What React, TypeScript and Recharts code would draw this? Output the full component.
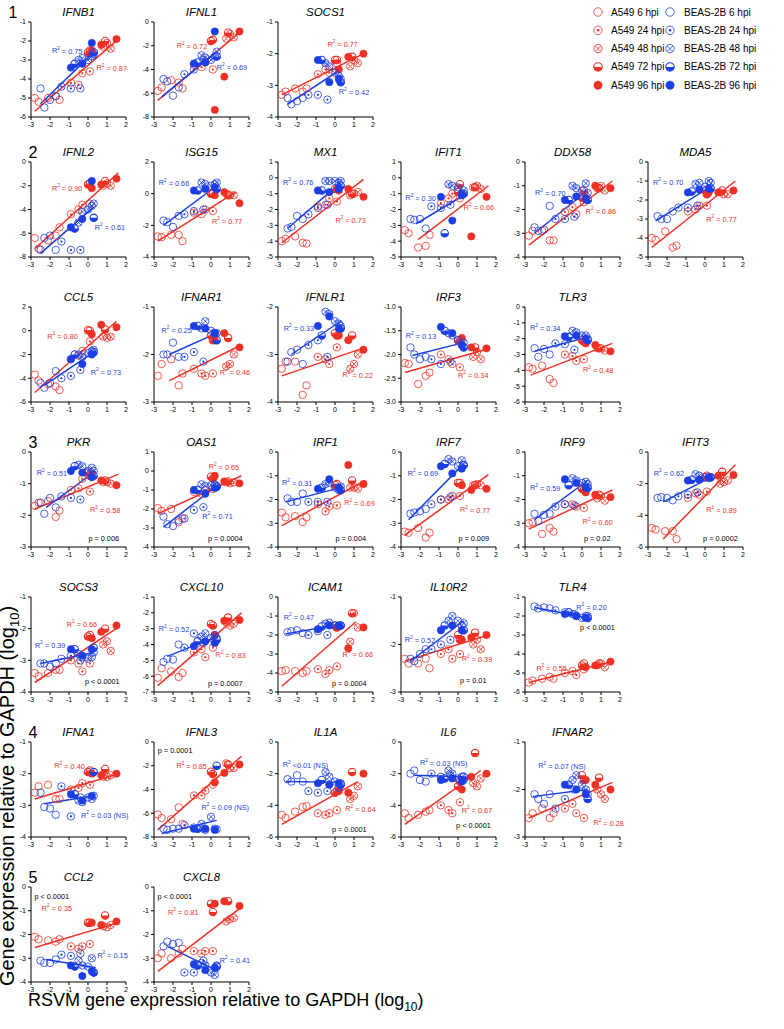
import React from 'react';
import { ScatterChart, Scatter, XAxis, YAxis, ReferenceLine } from 'recharts';

const RED = '#EE3124';
const BLUE = '#1B3FE4';
const FONT = '"Liberation Sans", Arial, Helvetica, sans-serif';

const X_TICKS = [-3, -2, -1, 0, 1, 2];
const TIME_LABELS = ['6 hpi', '24 hpi', '48 hpi', '72 hpi', '96 hpi'];
const CELL_LINES = ['A549', 'BEAS-2B'];

// RSVM (x) values of the samples, shared by every gene panel, and their time point index
const A549_X = [-2.8, -2.6, -2.1, -1.7, -1.5, -0.9, -0.5, -0.3, 0.1, 0.8, 1.0, 1.2, 0.0, 0.1, 0.9, 0.2, 0.7, 1.5];
const A549_T = [0, 0, 0, 0, 0, 1, 1, 1, 1, 2, 2, 2, 3, 3, 3, 4, 4, 4];
const BEAS_X = [-2.5, -2.3, -2.0, -1.7, -1.4, -0.9, -0.4, -0.5, -0.3, 0.0, 0.2, 0.3, -0.7, 0.3, -0.9, -0.3, 0.2];
const BEAS_T = [0, 0, 0, 0, 1, 1, 1, 2, 2, 2, 2, 2, 3, 3, 4, 4, 4];

// gene expression (y) per panel: A549 then BEAS-2B
const IFNB1_A = [-5.0, -5.2, -5.0, -4.9, -5.1, -4.2, -4.3, -3.7, -3.6, -2.3, -2.1, -2.4, -2.6, -2.5, -2.0, -2.5, -2.2, -1.9];
const IFNB1_B = [-4.5, -5.5, -5.1, -4.9, -4.4, -4.5, -4.5, -3.0, -2.9, -3.0, -2.8, -2.7, -3.2, -2.6, -3.4, -3.2, -2.1];
const IFNL1_A = [-5.8, -5.5, -4.9, -5.1, -5.6, -3.6, -3.8, -3.4, -4.0, -1.4, -1.0, -1.3, -1.6, -1.5, -0.9, -7.4, -4.6, -0.8];
const IFNL1_B = [-4.8, -5.0, -6.2, -5.5, -4.4, -4.0, -3.2, -2.8, -3.0, -3.2, -2.9, -2.5, -3.4, -2.9, -3.5, -3.4, -0.8];
const SOCS1_A = [-3.3, -3.2, -3.1, -3.2, -3.1, -2.65, -2.5, -2.6, -2.3, -2.4, -2.2, -2.3, -2.2, -2.2, -2.1, -2.5, -2.1, -2.0];
const SOCS1_B = [-3.4, -3.6, -3.5, -3.4, -3.3, -3.3, -3.45, -2.3, -2.4, -2.6, -2.7, -2.8, -2.2, -2.9, -2.2, -2.9, -2.8];
const IFNL2_A = [-6.4, -7.3, -6.6, -6.2, -5.5, -4.4, -4.0, -3.6, -3.5, -2.0, -1.8, -2.0, -1.9, -1.8, -1.6, -2.2, -1.9, -1.4];
const IFNL2_B = [-7.4, -6.4, -6.2, -7.4, -6.7, -7.4, -7.4, -5.1, -4.2, -4.0, -3.7, -3.5, -5.6, -4.7, -5.5, -4.8, -1.6];
const ISG15_A = [-2.7, -2.75, -2.6, -2.6, -3.0, -1.2, -1.3, -1.0, -1.1, 0.0, -0.1, -0.1, 0.0, 0.0, -0.1, -0.1, 0.1, -0.6];
const ISG15_B = [-1.7, -1.8, -2.1, -1.4, -1.3, -1.1, -1.0, 0.7, 0.6, 0.5, 0.6, 0.7, 0.2, 0.3, 0.2, 0.3, 0.4];
const MX1_A = [-4.0, -3.85, -3.7, -4.1, -4.15, -1.8, -1.7, -1.3, -1.5, -1.1, -1.0, -0.9, -0.7, -0.7, -1.0, -0.8, -0.7, -1.2];
const MX1_B = [-3.2, -3.1, -2.4, -2.6, -2.3, -1.9, -1.7, -0.2, -0.2, -0.2, -0.3, -0.2, -0.8, -0.5, -0.8, -0.9, -0.7];
const IFIT1_A = [-3.3, -3.5, -4.4, -4.3, -3.6, -1.6, -1.3, -1.0, -1.3, -0.6, -0.5, -0.7, -0.9, -0.4, -0.6, -1.0, -3.7, -1.2];
const IFIT1_B = [-2.6, -2.65, -2.6, -3.2, -1.8, -1.9, -1.7, -0.4, -0.5, -0.6, -1.0, -0.8, -3.5, -1.0, -1.2, -2.7, -1.1];
const DDX58_A = [-3.1, -2.9, -2.9, -3.3, -3.3, -2.1, -1.9, -2.2, -1.7, -1.1, -1.0, -1.2, -1.5, -1.2, -1.1, -1.5, -1.0, -1.1];
const DDX58_B = [-2.75, -2.9, -2.85, -1.85, -2.4, -2.4, -2.3, -1.0, -1.1, -1.2, -0.9, -1.3, -1.6, -1.6, -1.6, -1.45, -1.55];
const MDA5_A = [-4.0, -4.1, -3.65, -4.5, -4.4, -2.6, -2.5, -2.3, -2.3, -1.6, -1.7, -1.7, -1.5, -1.7, -1.5, -1.6, -1.6, -1.5];
const MDA5_B = [-2.85, -3.0, -3.0, -2.6, -2.4, -2.4, -2.3, -1.15, -1.1, -1.3, -1.0, -1.1, -1.55, -1.4, -1.6, -1.45, -1.4];
const CCL5_A = [-3.7, -4.2, -4.5, -4.7, -5.0, -2.4, -2.1, -1.7, -0.9, -0.5, -0.6, -0.5, 0.05, 0.0, 0.1, -0.3, 0.5, 0.3];
const CCL5_B = [-4.4, -4.8, -4.4, -3.4, -4.0, -3.8, -3.3, -2.0, -2.2, -1.9, -1.7, -1.6, -2.0, -1.8, -2.4, -2.8, -2.0];
const IFNAR1_A = [-2.45, -2.2, -2.1, -2.65, -2.4, -2.3, -2.4, -2.45, -2.4, -2.25, -2.2, -2.0, -1.6, -1.7, -1.65, -1.7, -1.55, -1.85];
const IFNAR1_B = [-2.0, -2.0, -1.75, -2.05, -2.05, -1.95, -2.15, -1.45, -1.3, -1.5, -1.55, -1.55, -1.4, -1.7, -1.4, -1.45, -1.55];
const IFNLR1_A = [-3.3, -3.15, -3.15, -3.85, -3.65, -3.05, -3.1, -3.2, -2.85, -3.3, -3.2, -3.0, -2.55, -2.6, -2.6, -2.6, -2.7, -2.9];
const IFNLR1_B = [-3.15, -2.95, -2.9, -3.2, -2.8, -2.7, -3.05, -2.1, -2.15, -2.3, -2.35, -2.4, -2.6, -2.45, -2.4, -2.2, -2.45];
const IRF3_A = [-2.18, -2.2, -2.62, -2.45, -2.38, -2.0, -2.1, -2.2, -2.27, -2.05, -1.95, -2.1, -1.7, -1.72, -1.85, -1.65, -1.85, -1.87];
const IRF3_B = [-1.85, -2.0, -2.1, -2.05, -2.1, -2.2, -2.15, -1.55, -1.6, -1.7, -1.8, -1.75, -1.5, -1.85, -1.42, -1.55, -1.8];
const TLR3_A = [-3.8, -3.9, -3.7, -4.55, -4.8, -3.0, -3.1, -3.4, -3.3, -2.6, -2.6, -2.75, -2.1, -2.2, -2.6, -2.3, -2.4, -2.8];
const TLR3_B = [-2.6, -3.15, -2.65, -3.0, -2.3, -2.35, -2.7, -1.5, -1.6, -1.8, -1.8, -2.0, -1.9, -2.1, -1.85, -1.8, -2.0];
const PKR_A = [-1.7, -1.6, -1.55, -2.05, -1.85, -1.2, -1.15, -0.85, -1.25, -0.95, -0.95, -1.0, -0.65, -0.75, -0.9, -0.7, -0.9, -1.05];
const PKR_B = [-1.6, -1.95, -1.45, -1.75, -1.4, -1.45, -1.5, -0.4, -0.45, -0.6, -0.5, -0.6, -0.45, -0.75, -0.6, -0.65, -0.8];
const OAS1_A = [-1.95, -2.1, -2.0, -2.7, -2.5, -1.1, -1.2, -1.0, -0.95, -0.6, -0.65, -0.6, -0.3, -0.4, -0.55, -0.25, -0.55, -0.65];
const OAS1_B = [-2.4, -2.8, -2.9, -2.6, -2.5, -2.05, -1.9, -0.7, -0.8, -0.75, -0.7, -0.85, -1.0, -0.8, -1.0, -1.2, -0.9];
const IRF1_A = [-2.55, -2.75, -2.7, -2.95, -2.75, -2.2, -2.5, -2.3, -2.25, -1.5, -1.5, -1.55, -1.4, -1.35, -1.2, -1.5, -0.55, -1.35];
const IRF1_B = [-1.95, -2.1, -2.1, -1.75, -2.1, -2.1, -2.1, -1.35, -1.3, -1.5, -1.6, -1.45, -1.5, -1.6, -1.55, -1.15, -1.5];
const IRF7_A = [-3.35, -3.4, -3.2, -3.6, -3.4, -2.0, -2.0, -1.85, -1.85, -1.4, -1.35, -1.4, -1.3, -1.3, -1.4, -1.4, -1.6, -1.55];
const IRF7_B = [-2.6, -2.55, -2.5, -2.4, -2.2, -2.0, -1.9, -0.3, -0.4, -0.6, -0.35, -0.55, -0.5, -0.55, -0.6, -0.9, -0.7];
const IRF9_A = [-3.0, -2.95, -3.45, -3.2, -3.35, -2.2, -2.2, -2.3, -2.35, -1.95, -1.85, -2.05, -1.55, -1.6, -1.8, -1.7, -1.8, -1.9];
const IRF9_B = [-2.6, -2.9, -2.65, -2.6, -2.3, -2.2, -2.25, -1.1, -1.2, -1.3, -1.25, -1.35, -1.4, -1.5, -1.15, -1.3, -1.5];
const IFIT3_A = [-4.8, -4.9, -5.0, -5.0, -5.5, -2.9, -2.6, -2.7, -2.5, -2.0, -1.9, -1.8, -1.6, -1.5, -1.25, -1.6, -1.5, -1.45];
const IFIT3_B = [-2.9, -2.85, -2.9, -3.05, -2.8, -2.7, -2.55, -1.4, -1.5, -1.6, -1.65, -1.6, -1.75, -1.6, -1.8, -1.75, -1.6];
const SOCS3_A = [-3.4, -3.5, -3.4, -3.3, -3.3, -3.0, -3.1, -3.35, -3.1, -2.5, -2.4, -2.7, -2.25, -2.2, -2.0, -2.3, -2.1, -1.9];
const SOCS3_B = [-3.1, -3.1, -3.2, -3.1, -2.95, -2.85, -3.0, -2.8, -2.9, -2.95, -2.9, -2.75, -2.65, -2.6, -2.65, -2.85, -2.65];
const CXCL10_A = [-6.1, -5.5, -5.7, -6.05, -5.8, -4.5, -4.3, -4.8, -4.2, -2.6, -2.8, -2.7, -2.7, -2.8, -2.3, -3.4, -2.5, -2.45];
const CXCL10_B = [-5.1, -4.9, -4.95, -4.0, -4.2, -3.3, -3.9, -3.5, -3.3, -3.6, -3.4, -3.6, -3.8, -3.7, -4.1, -3.8, -3.9];
const ICAM1_A = [-3.9, -3.85, -3.9, -4.0, -3.9, -3.8, -4.05, -3.85, -3.65, -2.35, -0.85, -1.6, -1.5, -1.6, -0.85, -1.55, -2.7, -1.6];
const ICAM1_B = [-1.85, -1.8, -1.75, -1.9, -2.0, -1.8, -2.0, -1.4, -1.35, -1.5, -1.5, -1.5, -1.55, -1.5, -1.7, -1.5, -1.5];
const IL10R2_A = [-2.3, -2.4, -2.4, -2.3, -2.5, -2.2, -2.1, -2.3, -2.2, -2.0, -1.9, -2.1, -1.8, -1.9, -1.75, -1.9, -1.85, -1.8];
const IL10R2_B = [-2.3, -2.35, -2.2, -2.1, -2.1, -2.0, -1.9, -1.5, -1.4, -1.5, -1.6, -1.55, -1.6, -1.7, -1.7, -1.6, -1.7];
const TLR4_A = [-5.5, -5.4, -5.3, -5.2, -5.3, -5.0, -4.9, -5.1, -4.8, -4.6, -4.5, -4.7, -4.6, -4.5, -4.5, -4.7, -4.6, -4.4];
const TLR4_B = [-1.5, -1.6, -1.55, -1.6, -1.7, -1.8, -1.9, -1.9, -2.0, -2.1, -2.0, -2.0, -1.8, -2.1, -1.9, -2.0, -2.1];
const IFNA1_A = [-2.6, -2.4, -2.35, -2.8, -2.8, -2.5, -2.45, -2.3, -2.35, -2.1, -2.1, -2.05, -1.95, -1.9, -1.85, -2.0, -2.05, -2.0];
const IFNA1_B = [-2.6, -3.05, -3.1, -3.3, -2.4, -3.35, -2.75, -2.85, -2.9, -2.75, -2.8, -2.7, -2.65, -1.95, -2.65, -2.85, -2.7];
const IFNL3_A = [-6.1, -6.4, -6.5, -5.5, -6.9, -4.5, -4.5, -4.1, -3.6, -1.8, -2.2, -2.2, -2.5, -2.7, -1.9, -3.4, -2.6, -1.9];
const IFNL3_B = [-7.3, -7.4, -7.3, -7.3, -7.0, -7.2, -7.3, -6.9, -7.4, -6.3, -7.3, -7.35, -7.3, -2.0, -7.3, -7.3, -7.4];
const IL1A_A = [-4.6, -4.8, -4.4, -4.1, -4.05, -4.5, -4.6, -4.5, -4.3, -3.6, -3.4, -2.8, -3.2, -3.1, -1.9, -3.1, -3.2, -2.0];
const IL1A_B = [-2.35, -2.5, -2.1, -2.5, -3.1, -3.2, -3.1, -1.9, -2.2, -2.5, -2.9, -2.6, -2.4, -2.7, -2.6, -2.7, -2.6];
const IL6_A = [-4.5, -4.8, -4.6, -4.4, -4.3, -4.0, -4.3, -4.5, -3.8, -2.6, -2.8, -2.3, -2.8, -2.5, -0.7, -3.0, -2.2, -2.0];
const IL6_B = [-2.0, -1.8, -2.4, -2.5, -2.0, -2.2, -2.1, -1.8, -2.0, -2.3, -2.2, -2.4, -2.3, -2.2, -2.4, -2.3, -2.5];
const IFNAR2_A = [-2.6, -2.5, -2.4, -2.6, -2.5, -2.4, -2.3, -2.5, -2.6, -2.0, -2.1, -2.2, -1.7, -1.8, -1.75, -1.8, -1.9, -2.0];
const IFNAR2_B = [-2.1, -2.2, -2.3, -2.1, -2.4, -2.2, -2.0, -1.8, -1.7, -1.9, -2.0, -2.1, -1.9, -2.2, -1.9, -2.0, -2.1];
const CCL2_A = [-2.1, -2.2, -2.25, -2.3, -2.2, -2.5, -2.6, -2.5, -2.4, -1.65, -1.7, -1.6, -1.5, -1.5, -1.2, -1.5, -1.6, -1.45];
const CCL2_B = [-3.1, -3.2, -3.2, -3.05, -2.85, -2.9, -2.8, -3.1, -3.3, -3.35, -3.0, -3.6, -3.35, -3.6, -3.3, -3.75, -3.55];
const CXCL8_A = [-3.0, -2.8, -3.0, -2.8, -2.6, -2.7, -2.8, -2.7, -2.7, -1.45, -1.35, -1.3, -0.7, -1.05, -0.6, -0.7, -0.6, -0.8];
const CXCL8_B = [-2.5, -2.3, -2.4, -2.35, -3.6, -3.6, -3.1, -3.2, -3.3, -3.6, -3.7, -3.3, -3.3, -3.35, -3.25, -3.5, -3.4];

// regression lines: A549 x1,y1,x2,y2 then BEAS-2B x1,y1,x2,y2
const IFNB1_FIT = [-2.8, -5.7, 1.6, -1.9, -2.5, -5.3, 0.3, -2.6];
const IFNL1_FIT = [-2.8, -6.6, 1.5, -0.9, -2.6, -6.3, 0.3, -2.5];
const SOCS1_FIT = [-2.8, -3.3, 1.5, -2.0, -2.5, -3.6, 0.3, -2.5];
const IFNL2_FIT = [-2.8, -7.3, 1.6, -0.9, -2.5, -7.7, 0.3, -3.8];
const ISG15_FIT = [-2.8, -3.0, 1.3, 0.1, -2.5, -2.0, 0.3, 0.5];
const MX1_FIT = [-2.8, -4.1, 1.5, -0.1, -2.5, -3.2, 0.3, -0.3];
const IFIT1_FIT = [-2.1, -3.9, 1.6, -0.5, -2.2, -2.9, 0.3, -1.1];
const DDX58_FIT = [-2.8, -3.5, 1.6, -0.8, -2.5, -3.0, 0.3, -1.2];
const MDA5_FIT = [-2.8, -4.5, 1.6, -1.0, -2.6, -3.1, 0.3, -1.3];
const CCL5_FIT = [-2.8, -5.2, 1.5, 0.8, -2.3, -4.6, 0.4, -1.7];
const IFNAR1_FIT = [-2.2, -2.55, 1.6, -1.8, -2.2, -2.0, 0.3, -1.55];
const IFNLR1_FIT = [-2.8, -3.45, 1.6, -2.85, -2.3, -3.0, 0.3, -2.3];
const IRF3_FIT = [-2.8, -2.38, 1.6, -1.88, -2.4, -2.02, 0.3, -1.75];
const TLR3_FIT = [-2.7, -4.3, 1.6, -2.3, -2.5, -2.8, 0.3, -1.9];
const PKR_FIT = [-2.8, -1.8, 1.6, -0.7, -2.2, -1.75, 0.4, -0.6];
const OAS1_FIT = [-2.8, -2.25, 1.6, -0.25, -2.5, -2.95, 0.4, -0.7];
const IRF1_FIT = [-2.8, -3.1, 1.6, -1.2, -2.6, -2.1, 0.3, -1.5];
const IRF7_FIT = [-2.8, -3.5, 1.6, -0.95, -2.6, -2.85, 0.3, -0.5];
const IRF9_FIT = [-2.8, -3.25, 1.6, -1.6, -2.5, -2.85, 0.3, -1.2];
const IFIT3_FIT = [-2.2, -5.5, 1.6, -0.8, -2.2, -3.15, 0.3, -1.6];
const SOCS3_FIT = [-2.8, -3.7, 1.6, -1.95, -2.5, -3.1, 0.3, -2.75];
const CXCL10_FIT = [-2.8, -6.6, 1.6, -2.0, -2.3, -4.75, 0.3, -3.5];
const ICAM1_FIT = [-2.8, -4.7, 1.1, -1.3, -2.6, -1.95, 0.2, -1.45];
const IL10R2_FIT = [-2.8, -2.35, 1.6, -1.8, -2.5, -2.35, 0.3, -1.5];
const TLR4_FIT = [-2.8, -5.5, 1.6, -4.4, -2.5, -1.55, 0.3, -2.1];
const IFNA1_FIT = [-2.8, -2.8, 1.6, -2.0, -2.3, -2.95, 0.3, -2.7];
const IFNL3_FIT = [-2.8, -7.4, 1.6, -1.2, -2.6, -7.7, 0.3, -6.6];
const IL1A_FIT = [-2.8, -5.2, 1.2, -2.5, -2.6, -2.5, 0.3, -2.55];
const IL6_FIT = [-2.8, -5.2, 1.2, -1.8, -2.3, -2.1, 0.3, -2.2];
const IFNAR2_FIT = [-2.8, -2.6, 1.6, -1.85, -2.6, -2.15, 0.3, -2.0];
const CCL2_FIT = [-2.8, -2.55, 1.6, -1.5, -2.2, -3.05, 0.4, -3.4];
const CXCL8_FIT = [-2.8, -3.55, 1.6, -0.85, -2.3, -2.5, 0.4, -3.55];

// annotations: kind ('a' A549 R², 'b' BEAS-2B R², 'p' p value), text, x, y (data coords, text start)
const IFNB1_TXT = [['b', ' = 0.75', -1.9, -2.5], ['a', ' = 0.87', 0.45, -3.4]];
const IFNL1_TXT = [['a', ' = 0.72', -1.8, -2.0], ['b', ' = 0.69', 0.3, -3.8]];
const SOCS1_TXT = [['a', ' = 0.77', -0.4, -1.7], ['b', ' = 0.42', 0.2, -3.2]];
const IFNL2_TXT = [['a', ' = 0.90', -1.9, -2.2], ['b', ' = 0.61', 0.35, -5.5]];
const ISG15_TXT = [['b', ' = 0.66', -2.75, 0.7], ['a', ' = 0.77', 0.05, -1.75]];
const MX1_TXT = [['b', ' = 0.76', -2.74, -0.28], ['a', ' = 0.73', 0.02, -2.67]];
const IFIT1_TXT = [['b', ' = 0.30', -2.77, -1.26], ['a', ' = 0.66', 0.3, -1.85]];
const DDX58_TXT = [['b', ' = 0.70', -2.47, -1.3], ['a', ' = 0.86', 0.19, -2.07]];
const MDA5_TXT = [['b', ' = 0.70', -2.74, -1.07], ['a', ' = 0.77', 0.07, -3.02]];
const CCL5_TXT = [['a', ' = 0.80', -2.14, -0.45], ['b', ' = 0.73', 0.14, -3.49]];
const IFNAR1_TXT = [['b', ' = 0.25', -2.61, -1.49], ['a', ' = 0.46', 0.46, -2.37]];
const IFNLR1_TXT = [['b', ' = 0.33', -2.7, -2.45], ['a', ' = 0.22', 0.4, -3.43]];
const IRF3_TXT = [['b', ' = 0.13', -2.75, -1.61], ['a', ' = 0.34', 0.0, -2.44]];
const TLR3_TXT = [['b', ' = 0.34', -2.74, -1.3], ['a', ' = 0.48', 0.05, -3.97]];
const PKR_TXT = [['b', ' = 0.51', -2.7, -0.66], ['a', ' = 0.58', 0.1, -1.83], ['p', 'p = 0.006', 0.02, -2.73]];
const OAS1_TXT = [['a', ' = 0.65', -0.12, 0.23], ['b', ' = 0.71', -0.46, -2.37], ['p', 'p = 0.0004', -0.16, -3.54]];
const IRF1_TXT = [['b', ' = 0.31', -2.79, -1.29], ['a', ' = 0.69', 0.49, -2.13], ['p', 'p = 0.004', 0.02, -3.63]];
const IRF7_TXT = [['b', ' = 0.69', -2.65, -0.9], ['a', ' = 0.77', 0.1, -2.44], ['p', 'p = 0.009', 0.02, -3.63]];
const IRF9_TXT = [['b', ' = 0.59', -2.74, -1.5], ['a', ' = 0.60', 0.02, -2.93], ['p', 'p = 0.02', 0.1, -3.63]];
const IFIT3_TXT = [['b', ' = 0.62', -2.7, -1.35], ['a', ' = 0.89', 0.07, -3.66], ['p', 'p = 0.0002', -0.1, -5.45]];
const SOCS3_TXT = [['a', ' = 0.66', -1.12, -1.86], ['b', ' = 0.39', -2.79, -2.52], ['p', 'p < 0.0001', -0.16, -3.67]];
const CXCL10_TXT = [['b', ' = 0.52', -2.75, -2.99], ['a', ' = 0.83', 0.23, -4.66], ['p', 'p = 0.0007', -0.16, -6.45]];
const ICAM1_TXT = [['b', ' = 0.47', -2.7, -1.07], ['a', ' = 0.66', 0.4, -3.0], ['p', 'p = 0.0004', -0.16, -4.54]];
const IL10R2_TXT = [['b', ' = 0.52', -2.8, -1.9], ['a', ' = 0.39', 0.2, -2.3], ['p', 'p = 0.01', 0.1, -2.75]];
const TLR4_TXT = [['b', ' = 0.20', -0.3, -1.55], ['p', 'p < 0.0001', -0.1, -2.6], ['a', ' = 0.55', -2.4, -4.75]];
const IFNA1_TXT = [['a', ' = 0.40', -1.77, -1.75], ['b', ' = 0.03 (NS)', -0.37, -3.32]];
const IFNL3_TXT = [['p', 'p = 0.0001', -2.8, -0.73], ['a', ' = 0.85', -1.82, -1.99], ['b', ' = 0.09 (NS)', -0.5, -5.48]];
const IL1A_TXT = [['b', ' <0.01 (NS)', -2.75, -1.43], ['a', ' = 0.64', 0.54, -4.23], ['p', 'p = 0.0001', -0.16, -5.54]];
const IL6_TXT = [['b', ' = 0.03 (NS)', -2.0, -1.3], ['a', ' = 0.67', 0.2, -4.3], ['p', 'p < 0.0001', -0.1, -5.3]];
const IFNAR2_TXT = [['b', ' = 0.07 (NS)', -2.3, -1.5], ['a', ' = 0.28', 0.6, -2.7]];
const CCL2_TXT = [['p', 'p < 0.0001', -2.82, -0.42], ['a', ' = 0.35', -2.44, -0.9], ['b', ' = 0.15', 0.49, -2.88]];
const CXCL8_TXT = [['p', 'p < 0.0001', -2.82, -0.42], ['a', ' = 0.81', -2.26, -1.06], ['b', ' = 0.41', 0.46, -3.08]];

// layout: name, row, col, yMin, yMax, yStep, A549 y, BEAS y, fits, annotations
const PANELS: any[] = [
  ['IFNB1', 0, 0, -6, -1, 1, IFNB1_A, IFNB1_B, IFNB1_FIT, IFNB1_TXT],
  ['IFNL1', 0, 1, -8, 0, 2, IFNL1_A, IFNL1_B, IFNL1_FIT, IFNL1_TXT],
  ['SOCS1', 0, 2, -4, -1, 1, SOCS1_A, SOCS1_B, SOCS1_FIT, SOCS1_TXT],
  ['IFNL2', 1, 0, -8, 0, 2, IFNL2_A, IFNL2_B, IFNL2_FIT, IFNL2_TXT],
  ['ISG15', 1, 1, -4, 2, 2, ISG15_A, ISG15_B, ISG15_FIT, ISG15_TXT],
  ['MX1', 1, 2, -5, 1, 1, MX1_A, MX1_B, MX1_FIT, MX1_TXT],
  ['IFIT1', 1, 3, -5, 1, 1, IFIT1_A, IFIT1_B, IFIT1_FIT, IFIT1_TXT],
  ['DDX58', 1, 4, -4, 0, 1, DDX58_A, DDX58_B, DDX58_FIT, DDX58_TXT],
  ['MDA5', 1, 5, -5, 0, 1, MDA5_A, MDA5_B, MDA5_FIT, MDA5_TXT],
  ['CCL5', 2, 0, -6, 2, 2, CCL5_A, CCL5_B, CCL5_FIT, CCL5_TXT],
  ['IFNAR1', 2, 1, -3, -1, 1, IFNAR1_A, IFNAR1_B, IFNAR1_FIT, IFNAR1_TXT],
  ['IFNLR1', 2, 2, -4, -2, 1, IFNLR1_A, IFNLR1_B, IFNLR1_FIT, IFNLR1_TXT],
  ['IRF3', 2, 3, -3, -1, 0.5, IRF3_A, IRF3_B, IRF3_FIT, IRF3_TXT],
  ['TLR3', 2, 4, -6, 0, 1, TLR3_A, TLR3_B, TLR3_FIT, TLR3_TXT],
  ['PKR', 3, 0, -3, 0, 1, PKR_A, PKR_B, PKR_FIT, PKR_TXT],
  ['OAS1', 3, 1, -4, 1, 1, OAS1_A, OAS1_B, OAS1_FIT, OAS1_TXT],
  ['IRF1', 3, 2, -4, 0, 1, IRF1_A, IRF1_B, IRF1_FIT, IRF1_TXT],
  ['IRF7', 3, 3, -4, 0, 1, IRF7_A, IRF7_B, IRF7_FIT, IRF7_TXT],
  ['IRF9', 3, 4, -4, 0, 1, IRF9_A, IRF9_B, IRF9_FIT, IRF9_TXT],
  ['IFIT3', 3, 5, -6, 0, 2, IFIT3_A, IFIT3_B, IFIT3_FIT, IFIT3_TXT],
  ['SOCS3', 4, 0, -4, -1, 1, SOCS3_A, SOCS3_B, SOCS3_FIT, SOCS3_TXT],
  ['CXCL10', 4, 1, -7, -1, 1, CXCL10_A, CXCL10_B, CXCL10_FIT, CXCL10_TXT],
  ['ICAM1', 4, 2, -5, 0, 1, ICAM1_A, ICAM1_B, ICAM1_FIT, ICAM1_TXT],
  ['IL10R2', 4, 3, -3, -1, 1, IL10R2_A, IL10R2_B, IL10R2_FIT, IL10R2_TXT],
  ['TLR4', 4, 4, -6, -1, 1, TLR4_A, TLR4_B, TLR4_FIT, TLR4_TXT],
  ['IFNA1', 5, 0, -4, -1, 1, IFNA1_A, IFNA1_B, IFNA1_FIT, IFNA1_TXT],
  ['IFNL3', 5, 1, -8, 0, 2, IFNL3_A, IFNL3_B, IFNL3_FIT, IFNL3_TXT],
  ['IL1A', 5, 2, -6, 0, 2, IL1A_A, IL1A_B, IL1A_FIT, IL1A_TXT],
  ['IL6', 5, 3, -6, 0, 2, IL6_A, IL6_B, IL6_FIT, IL6_TXT],
  ['IFNAR2', 5, 4, -3, -1, 1, IFNAR2_A, IFNAR2_B, IFNAR2_FIT, IFNAR2_TXT],
  ['CCL2', 6, 0, -4, 0, 1, CCL2_A, CCL2_B, CCL2_FIT, CCL2_TXT],
  ['CXCL8', 6, 1, -4, 0, 1, CXCL8_A, CXCL8_B, CXCL8_FIT, CXCL8_TXT],
];

// row number text, panel row, x centre
const ROW_NUMBERS = [['1', 0, 13], ['2', 1, 33], ['3', 3, 33], ['4', 5, 33], ['5', 6, 33]];

const COL_X = [31, 154, 278, 401, 525, 648];
const ROW_Y = [22, 162, 307, 452, 597, 742, 887];
const PW = 95;
const PH = 95;
const YW = 26;
const MT = 4;
const MR = 8;
const XH = 14;

function Glyph({ cx, cy, t, c, r }: any) {
  const sw = 0.8;
  if (t === 0) return <circle cx={cx} cy={cy} r={r} fill="none" stroke={c} strokeWidth={sw} />;
  if (t === 1)
    return (
      <g>
        <circle cx={cx} cy={cy} r={r} fill="none" stroke={c} strokeWidth={sw} />
        <circle cx={cx} cy={cy} r={r * 0.3} fill={c} />
      </g>
    );
  if (t === 2) {
    const d = r * 0.68;
    return (
      <g>
        <circle cx={cx} cy={cy} r={r} fill="none" stroke={c} strokeWidth={sw} />
        <path d={`M${cx - d},${cy - d}L${cx + d},${cy + d}M${cx - d},${cy + d}L${cx + d},${cy - d}`} stroke={c} strokeWidth={sw} />
      </g>
    );
  }
  if (t === 3)
    return (
      <g>
        <path d={`M${cx - r},${cy}A${r},${r} 0 0 0 ${cx + r},${cy}Z`} fill={c} />
        <circle cx={cx} cy={cy} r={r} fill="none" stroke={c} strokeWidth={1.1} />
      </g>
    );
  return <circle cx={cx} cy={cy} r={r} fill={c} stroke={c} strokeWidth={0.5} />;
}

const MarkerShape = (p: any) => {
  if (p.cx == null || p.cy == null) return <g />;
  return <Glyph cx={p.cx} cy={p.cy} t={p.payload.t} c={p.payload.c} r={3.7} />;
};

const TextShape = (p: any) => {
  if (p.cx == null || p.cy == null) return <g />;
  const d = p.payload;
  const fs = 7.3;
  if (d.k === 'p')
    return (
      <text x={p.cx} y={p.cy} fontSize={fs} fill="#000" fontFamily={FONT} dominantBaseline="central">
        {d.s}
      </text>
    );
  const col = d.k === 'a' ? RED : BLUE;
  return (
    <text x={p.cx} y={p.cy} fontSize={fs} fill={col} fontFamily={FONT} dominantBaseline="central">
      R<tspan fontSize={fs * 0.65} dy={-3}>2</tspan>
      <tspan dy={3}>{d.s}</tspan>
    </text>
  );
};

const mk = (xs: number[], ts: number[], ys: number[], c: string) => ys.map((y, i) => ({ x: xs[i], y, t: ts[i], c }));

function Panel({ cfg }: { cfg: any[] }) {
  const [name, row, col, lo, hi, step, ay, by, fit, txt] = cfg;
  const ticks: number[] = [];
  for (let v = lo; v <= hi + 1e-9; v += step) ticks.push(Math.round(v * 10) / 10);
  const aData = mk(A549_X, A549_T, ay, RED);
  const bData = mk(BEAS_X, BEAS_T, by, BLUE);
  const tData = txt.map((t: any[]) => ({ k: t[0], s: t[1], x: t[2], y: t[3] }));
  const fmt = (v: number) => (step < 1 ? v.toFixed(1) : String(v));
  const left = COL_X[col] - YW;
  const top = ROW_Y[row] - MT;
  return (
    <>
      <div
        style={{
          position: 'absolute',
          left: COL_X[col],
          width: PW,
          top: ROW_Y[row] - 17,
          textAlign: 'center',
          fontFamily: FONT,
          fontStyle: 'italic',
          fontSize: 11.5,
          lineHeight: '14px',
          color: '#000',
        }}
      >
        {name}
      </div>
      <div style={{ position: 'absolute', left, top }}>
        <ScatterChart width={YW + PW + MR} height={MT + PH + XH} margin={{ top: MT, right: MR, bottom: 0, left: 0 }}>
          <XAxis
            type="number"
            dataKey="x"
            domain={[-3, 2]}
            ticks={X_TICKS}
            interval={0}
            height={XH}
            tickSize={3}
            tick={{ fontSize: 7, fill: '#000', fontFamily: FONT }}
            axisLine={{ stroke: '#000', strokeWidth: 1 }}
            tickLine={{ stroke: '#000', strokeWidth: 1 }}
          />
          <YAxis
            type="number"
            dataKey="y"
            domain={[lo, hi]}
            ticks={ticks}
            interval={0}
            width={YW}
            tickSize={3}
            tickFormatter={fmt}
            tick={{ fontSize: 7, fill: '#000', fontFamily: FONT }}
            axisLine={{ stroke: '#000', strokeWidth: 1 }}
            tickLine={{ stroke: '#000', strokeWidth: 1 }}
          />
          <Scatter data={aData} shape={MarkerShape} isAnimationActive={false} />
          <Scatter data={bData} shape={MarkerShape} isAnimationActive={false} />
          <ReferenceLine
            segment={[{ x: fit[0], y: fit[1] }, { x: fit[2], y: fit[3] }]}
            stroke={RED}
            strokeWidth={1.5}
            ifOverflow="visible"
          />
          <ReferenceLine
            segment={[{ x: fit[4], y: fit[5] }, { x: fit[6], y: fit[7] }]}
            stroke={BLUE}
            strokeWidth={1.5}
            ifOverflow="visible"
          />
          <Scatter data={tData} shape={TextShape} isAnimationActive={false} />
        </ScatterChart>
      </div>
    </>
  );
}

function Legend() {
  const rows = TIME_LABELS.map((tl, i) => ({ tl, i }));
  const y0 = 12;
  const dy = 18.3;
  return (
    <svg style={{ position: 'absolute', left: 560, top: 0, overflow: 'visible' }} width={224} height={100}>
      {rows.map(({ tl, i }) => (
        <g key={tl}>
          <Glyph cx={38} cy={y0 + i * dy} t={i} c={RED} r={4.2} />
          <text x={51} y={y0 + i * dy} fontSize={10} fontFamily={FONT} dominantBaseline="central" fill="#000">
            {CELL_LINES[0] + ' ' + tl}
          </text>
          <Glyph cx={110} cy={y0 + i * dy} t={i} c={BLUE} r={4.2} />
          <text x={124} y={y0 + i * dy} fontSize={10} fontFamily={FONT} dominantBaseline="central" fill="#000">
            {CELL_LINES[1] + ' ' + tl}
          </text>
        </g>
      ))}
    </svg>
  );
}

export default function App() {
  return (
    <div style={{ position: 'absolute', left: 0, top: 0, width: 784, height: 1029, background: '#fff', overflow: 'hidden' }}>
      <style>{'.recharts-surface{overflow:visible}'}</style>
      {ROW_NUMBERS.map(([n, r, x]) => (
        <div
          key={n as string}
          style={{
            position: 'absolute',
            left: (x as number) - 8,
            width: 16,
            top: (ROW_Y[r as number] as number) - 19,
            fontFamily: FONT,
            fontSize: 16,
            lineHeight: '20px',
            textAlign: 'center',
          }}
        >
          {n}
        </div>
      ))}
      {PANELS.map((p) => (
        <Panel key={p[0]} cfg={p} />
      ))}
      <Legend />
      <div
        style={{
          position: 'absolute',
          left: 11,
          top: 796,
          transform: 'translate(-50%, -50%) rotate(-90deg)',
          whiteSpace: 'nowrap',
          fontFamily: FONT,
          fontSize: 20,
          lineHeight: '22px',
        }}
      >
        Gene expression relative to GAPDH (log<sub style={{ fontSize: 13 }}>10</sub>)
      </div>
      <div
        style={{
          position: 'absolute',
          left: 28,
          top: 989,
          whiteSpace: 'nowrap',
          fontFamily: FONT,
          fontSize: 18,
          lineHeight: '22px',
        }}
      >
        RSVM gene expression relative to GAPDH (log<sub style={{ fontSize: 12 }}>10</sub>)
      </div>
    </div>
  );
}
